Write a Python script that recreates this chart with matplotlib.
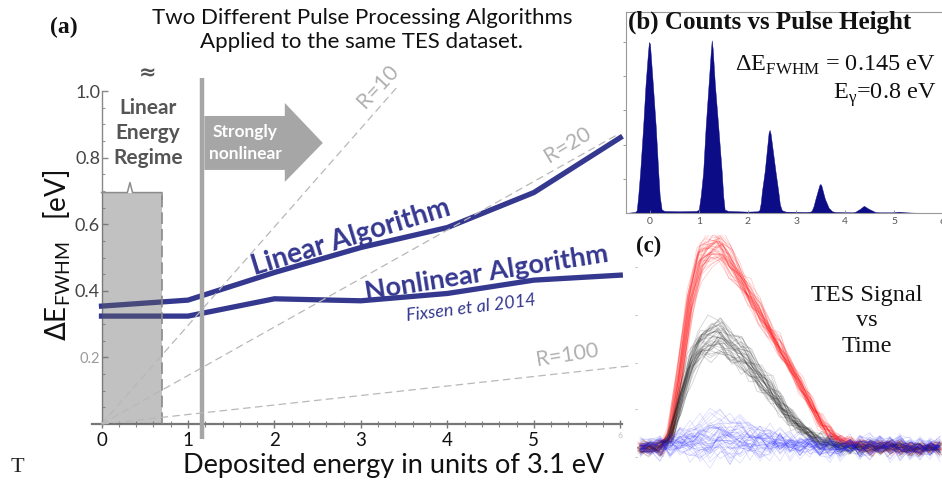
import matplotlib
matplotlib.use('Agg')
import matplotlib.pyplot as plt
from matplotlib.patches import Polygon, Rectangle
from matplotlib.ticker import MultipleLocator
import numpy as np

# ---------------- data: panel (a) ----------------
energy_units = [0, 1, 2, 3, 4, 5, 6]
linear_fwhm = [0.354, 0.372, 0.455, 0.530, 0.590, 0.695, 0.860]
nonlinear_fwhm = [0.324, 0.324, 0.376, 0.370, 0.392, 0.432, 0.447]

r_labels = ['R=10', 'R=20', 'R=100']
r_end_x = [3.43, 5.96, 6.10]
r_end_y = [1.015, 0.868, 0.174]

x_ticks_a = [0, 1, 2, 3, 4, 5, 6]
x_ticklabels_a = ['0', '1', '2', '3', '4', '5', '6']
y_ticks_a = [0.2, 0.4, 0.6, 0.8, 1.0]
y_ticklabels_a = ['0.2', '0.4', '0.6', '0.8', '1.0']

linear_regime_end = 0.70
linear_regime_top = 0.695
nonlinear_onset = 1.16

# ---------------- data: panel (b) ----------------
hist_x = [-0.5, -0.30, -0.27, -0.24, -0.20, -0.14, -0.09, -0.04, -0.02, 0.00, 0.06, 0.12, 0.17, 0.20, 0.24, 0.30,
          0.60, 0.95, 1.00, 1.04, 1.09, 1.14, 1.20, 1.245, 1.265, 1.285, 1.33, 1.40, 1.47, 1.50, 1.53, 1.60,
          2.00, 2.20, 2.24, 2.27, 2.29, 2.35, 2.43, 2.45, 2.47, 2.57, 2.63, 2.66, 2.70, 2.78,
          3.20, 3.28, 3.31, 3.35, 3.39, 3.47, 3.49, 3.51, 3.58, 3.66, 3.73, 3.80,
          4.15, 4.21, 4.30, 4.38, 4.48, 4.61, 4.70,
          4.96, 5.10, 5.24, 5.40, 6.00]
hist_counts = [0, 3, 8, 50, 120, 250, 375, 470, 500, 495, 375, 250, 120, 50, 10, 6,
               5, 6, 10, 50, 120, 250, 375, 470, 505, 480, 375, 250, 120, 50, 10, 6,
               4, 5, 8, 30, 60, 122, 235, 243, 232, 122, 60, 25, 8, 4,
               3, 4, 6, 20, 42, 82, 85, 80, 42, 15, 5, 3,
               2, 4, 12, 21, 12, 3, 2,
               2, 4, 2, 1, 0]
hist_xticks = [0, 1, 2, 3, 4, 5, 6]
hist_yticks = [100, 200, 300, 400, 500]

# ---------------- data: panel (c) ----------------
trace_t = list(range(31))
red_mean = [0.00, 0.00, 0.00, 0.06, 0.36, 0.72, 0.92, 0.98, 0.98, 0.92, 0.83, 0.75,
            0.66, 0.57, 0.49, 0.40, 0.31, 0.22, 0.13, 0.07, 0.04, 0.02, 0.01,
            0.00, 0.00, 0.00, 0.00, 0.00, 0.00, 0.00, 0.00]
black_mean = [0.00, 0.00, 0.00, 0.04, 0.22, 0.40, 0.50, 0.54, 0.54, 0.50, 0.46, 0.41,
              0.34, 0.28, 0.21, 0.15, 0.10, 0.06, 0.035, 0.02, 0.01, 0.00,
              0.00, 0.00, 0.00, 0.00, 0.00, 0.00, 0.00, 0.00, 0.00]
blue_bump = [0.00, 0.00, 0.00, 0.01, 0.03, 0.05, 0.07, 0.08, 0.08, 0.08, 0.07, 0.06,
             0.05, 0.04, 0.03, 0.02, 0.01, 0.01,
             0.00, 0.00, 0.00, 0.00, 0.00, 0.00, 0.00, 0.00, 0.00, 0.00, 0.00, 0.00, 0.00]
noise_0 = [0.02, -0.01, 0.03, -0.02, 0.01, 0.04, -0.03, 0.00, 0.02, -0.04, 0.03, 0.01, -0.02, 0.04, -0.01, 0.02,
           -0.03, 0.01, 0.03, -0.02, 0.00, 0.04, -0.03, 0.02, -0.01, 0.03, -0.04, 0.01, 0.02, -0.02, 0.01]
noise_1 = [-0.03, 0.02, 0.00, 0.04, -0.02, -0.01, 0.03, -0.04, 0.01, 0.02, -0.03, 0.04, 0.00, -0.02, 0.03, -0.04,
           0.02, 0.01, -0.03, 0.03, -0.01, -0.02, 0.04, 0.00, -0.03, 0.02, 0.01, -0.04, 0.03, 0.00, -0.02]
noise_2 = [0.04, 0.01, -0.03, 0.02, 0.03, -0.04, 0.01, 0.02, -0.02, 0.00, 0.04, -0.03, 0.03, 0.01, -0.04, 0.02,
           0.00, -0.03, 0.04, 0.01, -0.02, 0.03, -0.01, -0.04, 0.02, 0.04, -0.02, 0.00, -0.03, 0.03, 0.02]
noise_3 = [-0.01, -0.04, 0.02, 0.00, -0.03, 0.03, 0.04, -0.02, -0.01, 0.03, 0.00, -0.04, 0.02, 0.03, -0.02, 0.01,
           0.04, -0.01, -0.04, 0.00, 0.03, -0.03, 0.02, 0.04, -0.02, -0.01, 0.03, 0.02, -0.04, 0.01, 0.00]
noise_4 = [0.00, 0.03, 0.04, -0.03, 0.02, -0.02, -0.01, 0.04, 0.03, -0.03, 0.01, 0.02, -0.04, 0.00, 0.02, 0.03,
           -0.02, 0.04, 0.00, -0.04, 0.02, 0.01, -0.03, 0.03, 0.04, -0.04, 0.00, 0.03, 0.01, -0.03, 0.04]
noise_5 = [-0.02, 0.00, -0.04, 0.03, 0.04, 0.01, -0.02, -0.03, 0.04, 0.01, -0.01, 0.00, 0.03, -0.03, 0.04, -0.02,
           0.01, 0.02, -0.01, 0.04, -0.04, 0.00, 0.02, -0.02, 0.03, 0.00, 0.04, -0.03, -0.01, 0.02, -0.04]
red_amp = [0.95, 1.02, 0.98, 1.05, 0.93, 1.00, 1.03, 0.97, 1.07, 0.99, 0.96, 1.04, 1.01, 0.94, 1.06, 0.98,
           1.02, 1.00, 0.92, 1.05, 0.97, 1.03, 0.99, 1.08, 0.95, 1.01, 1.04, 0.96, 1.00, 1.02, 0.94, 1.06,
           0.98, 1.03, 0.97, 1.01, 0.99, 1.05, 0.96, 1.02]
black_amp = [0.90, 1.08, 0.96, 1.12, 0.86, 1.02, 0.94, 1.15, 0.99, 1.05, 0.88, 1.10, 0.97, 1.03, 0.92, 1.13,
             1.00, 0.89, 1.07, 0.95, 1.11, 0.93, 1.04, 0.87, 1.09, 0.98, 1.01, 0.91, 1.14, 0.96, 1.06, 0.90,
             1.02, 1.12, 0.94, 1.00, 0.88, 1.08, 0.97, 1.05]
trace_shift = [0.1, -0.2, 0.3, 0.0, -0.1, 0.2, -0.3, 0.1, 0.0, -0.2, 0.2, 0.1, -0.1, 0.3, -0.2, 0.0,
               0.1, -0.3, 0.2, -0.1]
blue_amp = [0.0, 0.5, 1.2, -0.3, 0.8, 1.6, 0.2, -0.5, 1.0, 0.4, 1.8, 0.1, -0.2, 0.7, 1.4, 0.3, -0.4,
            0.9, 1.1, 0.0, 0.6, 1.5, -0.1, 0.2, 1.3, 0.5, -0.3, 0.8, 1.7, 0.1, 0.4, -0.5, 1.0, 0.6,
            1.2, 0.0, -0.2, 0.9, 1.5, 0.3, 0.7, -0.1, 1.1, 0.2, 1.6, 0.4, -0.4, 0.8, 1.3, 0.0]
blue_offset = [0.00, 0.015, -0.01, 0.02, -0.015, 0.01, 0.00, -0.01, 0.015, 0.005]
noise_patterns = [noise_0, noise_1, noise_2, noise_3, noise_4, noise_5]

# ---------------- figure ----------------
plt.rcParams['font.family'] = ['Lato', 'DejaVu Sans']
W, H = 942, 484
fig = plt.figure(figsize=(W / 100, H / 100), dpi=100)


def fx(px):
    return px / W


def fy(py):
    return 1 - py / H


BLUE = '#35388f'
SERIF = ['Liberation Serif', 'DejaVu Serif']

# ---------- panel (a) ----------
ax = fig.add_axes([fx(92), fy(424), 530 / W, 333 / H])
ax.set_xlim(-0.11, 6.02)
ax.set_ylim(0, 1.0)
ax.patch.set_alpha(0)
for s in ['top', 'right']:
    ax.spines[s].set_visible(False)
ax.spines['left'].set_position(('data', 0))
ax.spines['left'].set_color('#888888')
ax.spines['left'].set_linewidth(1.0)
ax.spines['bottom'].set_color('#777777')
ax.spines['bottom'].set_linewidth(1.6)

ax.set_yticks(y_ticks_a)
ax.set_yticklabels(y_ticklabels_a)
ax.yaxis.set_minor_locator(MultipleLocator(0.05))
ax.tick_params(axis='y', which='major', direction='in', length=4, width=1, colors='#888888',
               labelcolor='#444444', labelsize=13, pad=1)
ax.tick_params(axis='y', which='minor', direction='in', length=2, width=0.8, colors='#999999')
ylbls = ax.get_yticklabels()
ylbls[0].set_color('#9a9a9a')
ylbls[0].set_fontsize(10.5)

ax.set_xticks(x_ticks_a)
ax.set_xticklabels(x_ticklabels_a)
ax.xaxis.set_minor_locator(MultipleLocator(0.2))
ax.tick_params(axis='x', which='major', direction='inout', length=6, width=1, colors='#777777',
               labelcolor='#111111', labelsize=13.5, pad=3)
ax.tick_params(axis='x', which='minor', direction='inout', length=4, width=0.8, colors='#888888')
xlbls = ax.get_xticklabels()
xlbls[-1].set_color('#bbbbbb')
xlbls[-1].set_fontsize(6)

# R lines
for lab, ex, ey in zip(r_labels, r_end_x, r_end_y):
    ax.plot([0, ex], [0, ey], color='#b8b8b8', lw=0.9, ls=(0, (6, 3.5)), zorder=6, clip_on=False)

# curves
ax.plot(energy_units, linear_fwhm, color=BLUE, lw=3.8, zorder=3, solid_joinstyle='round',
        clip_on=False)
ax.plot(energy_units, nonlinear_fwhm, color=BLUE, lw=3.8, zorder=3, solid_joinstyle='round',
        clip_on=False)

# linear regime box
ax.add_patch(Rectangle((0, 0), linear_regime_end, linear_regime_top, facecolor='#646464',
                       alpha=0.4, edgecolor='none', zorder=4))
ax.plot([linear_regime_end, linear_regime_end], [0, linear_regime_top], color='#8a8a8a', lw=1.2,
        ls=(0, (7, 3)), zorder=5)
mid = linear_regime_end * 0.47
ax.plot([0, mid - 0.03, mid, mid + 0.03, linear_regime_end, linear_regime_end],
        [linear_regime_top, linear_regime_top, linear_regime_top + 0.03, linear_regime_top,
         linear_regime_top, linear_regime_top - 0.02],
        color='#8c8c8c', lw=1.1, zorder=5, clip_on=False)

# strongly nonlinear vertical line + arrow
ax.plot([nonlinear_onset, nonlinear_onset], [-0.045, 1.039], color='#a6a6a6', lw=3.2,
        clip_on=False, zorder=5, solid_capstyle='butt')
arrow = Polygon([(1.19, 0.925), (2.12, 0.925), (2.12, 0.964), (2.56, 0.844), (2.12, 0.727),
                 (2.12, 0.763), (1.19, 0.763)], closed=True, facecolor='#a6a6a6',
                edgecolor='none', clip_on=False, zorder=5)
ax.add_patch(arrow)
ax.text(1.66, 0.844, 'Strongly\nnonlinear', color='white', fontweight='bold', fontsize=12.5,
        ha='center', va='center', linespacing=1.45, zorder=6)

# labels on curves
ax.text(2.88, 0.559, 'Linear Algorithm', color=BLUE, fontweight='bold', fontsize=20,
        rotation=17, ha='center', va='center', rotation_mode='anchor', zorder=7)
ax.text(4.45, 0.453, 'Nonlinear Algorithm', color=BLUE, fontweight='bold', fontsize=19.5,
        rotation=9, ha='center', va='center', rotation_mode='anchor', zorder=7)
ax.text(4.28, 0.348, 'Fixsen et al 2014', color=BLUE, fontstyle='italic', fontsize=13,
        rotation=7, ha='center', va='center', rotation_mode='anchor', zorder=7)
r_text_pos = [(3.20, 1.015, 47), (5.39, 0.838, 31), (5.39, 0.207, 9)]
for lab, (tx, ty, rot) in zip(r_labels, r_text_pos):
    ax.text(tx, ty, lab, color='#b0b0b0', fontsize=15.5, rotation=rot, ha='center', va='center',
            rotation_mode='anchor', clip_on=False)

# regime text
fig.text(fx(148), fy(73), '\u2248', family=['DejaVu Sans'], color='#555555', fontsize=15,
         fontweight='bold', ha='center', va='center')
fig.text(fx(148), fy(133), 'Linear\nEnergy\nRegime', color='#555555', fontsize=15,
         fontweight='bold', ha='center', va='center', linespacing=1.3)

# titles/labels
fig.text(fx(64), fy(27), '(a)', family=SERIF, fontweight='bold', fontsize=17, ha='center',
         va='center', color='#111111')
fig.text(fx(362), fy(30), 'Two Different Pulse Processing Algorithms\nApplied to the same TES dataset.',
         ha='center', va='center', fontsize=16, linespacing=1.25, color='#111111')
fig.text(fx(394), fy(465), 'Deposited energy in units of 3.1 eV', ha='center', va='center',
         fontsize=19.5, color='#111111')
fig.text(fx(57), fy(255), r'$\Delta$E$_{\mathregular{FWHM}}$   [eV]', rotation=90, ha='center',
         va='center', fontsize=20, color='#111111')
fig.text(fx(17), fy(467), 'T', family=SERIF, fontsize=16, ha='center', va='center',
         color='#222222')

# ---------- panel (b) ----------
axb = fig.add_axes([fx(626), fy(213), 317 / W, 201 / H])
axb.fill_between(hist_x, hist_counts, 0, color='#0c0c86', lw=0.3, edgecolor='#0c0c86')
axb.set_xlim(-0.49, 6.0)
axb.set_ylim(0, 588)
axb.set_xticks(hist_xticks)
axb.set_yticks(hist_yticks)
axb.set_yticklabels([])
axb.tick_params(axis='x', direction='in', length=2.5, width=0.6, colors='#888888',
                labelcolor='#555555', labelsize=7.5, pad=3)
axb.tick_params(axis='y', direction='out', length=2, width=0.6, colors='#888888')
for s in axb.spines.values():
    s.set_color('#999999')
    s.set_linewidth(0.8)

fig.text(fx(628), fy(22), '(b) Counts vs Pulse Height', family=SERIF, fontweight='bold',
         fontsize=18, ha='left', va='center', color='#111111')
fig.text(fx(936), fy(65), r'ΔE$_{\mathregular{FWHM}}$ = 0.145 eV', family=SERIF, fontsize=17.5,
         ha='right', va='center', color='#111111')
fig.text(fx(936), fy(95), r'E$_{\mathregular{γ}}$=0.8 eV', family=SERIF, fontsize=17.5,
         ha='right', va='center', color='#111111')

# ---------- panel (c) ----------
axc = fig.add_axes([fx(637), fy(475), 305 / W, 240 / H])
axc.set_xlim(-0.3, 30.2)
axc.set_ylim(-0.133, 1.049)
axc.patch.set_alpha(0)
for s in axc.spines.values():
    s.set_visible(False)
axc.set_xticks([])
axc.set_yticks([-0.044, 0.19, 0.42, 0.655, 0.89])
axc.set_yticklabels([])
axc.tick_params(axis='y', direction='out', length=1.5, width=0.6, colors='#aaaaaa')

t_arr = np.array(trace_t, dtype=float)
nmat = [np.array(n) for n in noise_patterns]
for k, a in enumerate(red_amp):
    noise = 0.6 * nmat[k % 6] + 0.4 * nmat[(k // 6 + 2) % 6]
    axc.plot(t_arr + trace_shift[k % 20], np.array(red_mean) * a + noise, color='#ff1010',
             lw=0.6, alpha=0.2)
for k, a in enumerate(black_amp):
    noise = 0.6 * nmat[(k + 3) % 6] + 0.5 * nmat[(k // 6 + 1) % 6]
    axc.plot(t_arr + trace_shift[(k + 7) % 20], np.array(black_mean) * a + noise,
             color='#202020', lw=0.6, alpha=0.2)
for k, a in enumerate(blue_amp):
    noise = 0.8 * nmat[k % 6] + 0.6 * nmat[(k // 6 + 4) % 6]
    axc.plot(t_arr, np.array(blue_bump) * a + noise + blue_offset[k % 10], color='#1a1aff',
             lw=0.5, alpha=0.16)

fig.text(fx(649), fy(246), '(c)', family=SERIF, fontweight='bold', fontsize=16.5, ha='center',
         va='center', color='#111111')
fig.text(fx(867), fy(321), 'TES Signal\nvs\nTime', family=SERIF, fontsize=17.5, ha='center',
         va='center', linespacing=1.25, color='#111111')

fig.savefig('out.png', dpi=100)
